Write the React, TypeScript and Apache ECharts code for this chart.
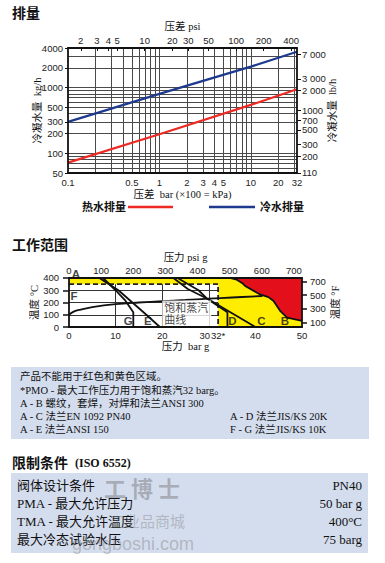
import React, { useEffect, useRef } from 'react';
import * as echarts from 'echarts';

// ---------- Chart 1: 排量 (discharge capacity) ----------
const PSI_PER_BAR = 14.5038;
const LB_PER_KG = 2.20462;
const barRange = [0.1, 32];
const kghRange = [50, 4000];
const barTickLabels = [0.1, 0.5, 1, 2, 3, 4, 5, 10, 20, 32];
const psiTickLabels = [2, 3, 4, 5, 10, 20, 30, 50, 100, 200, 400];
const kghTickLabels = [50, 100, 200, 300, 500, 1000, 2000, 3000, 4000];
const lbhTickLabels = [110.3, 200, 300, 500, 700, 1000, 2000, 3000, 5000, 7000];
const barGridValues = [0.2, 0.3, 0.4, 0.5, 0.6, 0.7, 0.8, 0.9, 1, 2, 3, 4, 5, 6, 7, 8, 9, 10, 20, 30];
const kghGridValues = [60, 70, 80, 90, 100, 200, 300, 400, 500, 600, 700, 800, 900, 1000, 2000, 3000];
const hotWater = [[0.1, 72], [1, 195], [10, 545], [32, 940]];
const coldWater = [[0.1, 300], [1, 800], [10, 2080], [32, 3500]];

// ---------- Chart 2: 工作范围 (operating range) ----------
const pressRange = [0, 50];
const tempRange = [0, 400];
const fRange = [32, 752];
const pressTickLabels = [0, 10, 20, 30, 32, 40, 50];
const psiTickLabels2 = [0, 100, 200, 300, 400, 500, 600, 700];
const tempTickLabels = [0, 100, 200, 300, 350, 400];
const fTickLabels = [100, 300, 500, 700];
const pressGridValues = [10, 20, 30, 40];
const tempGridValues = [100, 200, 300];
const yellowZone = [[0, 350], [32, 350], [32, 0], [50, 0]];
const redZoneB = [[34.5, 400], [36, 386], [37.2, 358], [37.9, 332], [41, 266], [42.8, 244], [43.9, 212], [45.3, 132], [46.8, 76], [50, 50]];
const pmoLimit = [[0, 350], [32, 350], [32, 0]];
const lineE = [[6.5, 400], [10.6, 300], [13.6, 200], [16.6, 100], [19.5, 0]];
const lineG = [[7.3, 400], [10, 300], [12, 220], [13.8, 120], [13.8, 0]];
const lineC = [[22.4, 400], [25.5, 310], [30, 225], [40, 0]];
const lineD = [[23.3, 400], [27.8, 300], [29.5, 235], [34, 120], [34, 0]];
const steamCurve = [[0, 100], [1, 125], [2.5, 142], [5, 162], [10, 186], [15, 200], [20, 211], [25, 221], [30, 231], [35, 241], [41.5, 253]];
const zoneLabels = [
  { name: 'A', value: [0, 400], offset: [7, -4] },
  { name: 'F', value: [0, 300], offset: [5, 6] },
  { name: 'G', value: [13.8, 0], offset: [-5, -6] },
  { name: 'E', value: [19.5, 0], offset: [-12, -6] },
  { name: 'D', value: [34, 0], offset: [5, -6] },
  { name: 'C', value: [40, 0], offset: [6, -6] },
  { name: 'B', value: [50, 0], offset: [-17, -6] },
];
const steamLabelPoint = [20, 106];

// ---------- Text blocks ----------
const noteLines = [
  '产品不能用于红色和黄色区域。',
  '*PMO - 最大工作压力用于饱和蒸汽32 barg。',
  'A - B 螺纹，套焊，对焊和法兰ANSI 300',
  'A - C 法兰EN 1092 PN40',
  'A - E 法兰ANSI 150',
];
const noteRight = ['A - D 法兰JIS/KS 20K', 'F - G 法兰JIS/KS 10K'];
const limitLeft = ['阀体设计条件', 'PMA - 最大允许压力', 'TMA - 最大允许温度', '最大冷态试验水压'];
const limitRight = ['PN40', '50 bar g', '400°C', '75 barg'];

const SANS = "'Liberation Sans', Arial, sans-serif";
const SERIF = "'Liberation Serif', 'Noto Sans CJK SC', serif";
const RED = '#ee2a24';
const BLUE = '#1d3a8e';
const LABEL_SIZE = 9.5;

function axisBase(extra: any) {
  return {
    z: 10,
    splitLine: { show: false },
    axisLine: { show: true, onZero: false, lineStyle: { color: '#111', width: 1.8 } },
    nameLocation: 'middle',
    nameMoveOverlap: false,
    nameTextStyle: { fontFamily: SERIF, fontSize: 10.5, color: '#111' },
    ...extra,
  };
}

function labelStyle(extra: any) {
  return { fontFamily: SANS, fontSize: LABEL_SIZE, color: '#222', hideOverlap: false, showMinLabel: true, showMaxLabel: true, ...extra };
}

function txt(x: number, y: number, text: string, font: string, extra: any = {}) {
  return {
    type: 'text',
    x,
    y,
    silent: true,
    style: {
      text,
      font,
      fill: '#111',
      align: 'left',
      textAlign: 'left',
      verticalAlign: 'middle',
      textVerticalAlign: 'middle',
      ...extra,
    },
  };
}

export default function App() {
  const ref = useRef<HTMLDivElement>(null);
  useEffect(() => {
    if (!ref.current) return;
    const chart = echarts.init(ref.current, undefined, { renderer: 'svg' });
    const lineSeries = (data: number[][], xi: number, yi: number, color: string, width: number, extra: any = {}) => ({
      type: 'line',
      xAxisIndex: xi,
      yAxisIndex: yi,
      data,
      showSymbol: false,
      symbol: 'none',
      silent: true,
      lineStyle: { color, width },
      ...extra,
    });

    const grid1Lines = [
      ...barGridValues.map((x) => ({ coords: [[x, kghRange[0]], [x, kghRange[1]]] })),
      ...kghGridValues.map((y) => ({ coords: [[barRange[0], y], [barRange[1], y]] })),
    ];
    const grid2Lines = [
      ...pressGridValues.map((x) => ({ coords: [[x, tempRange[0]], [x, tempRange[1]]] })),
      ...tempGridValues.map((y) => ({ coords: [[pressRange[0], y], [pressRange[1], y]] })),
    ];

    const graphic: any[] = [
      txt(12, 13, '排量', `bold 14px ${SERIF}`),
      txt(82, 207, '热水排量', `bold 11px ${SERIF}`),
      { type: 'line', silent: true, shape: { x1: 128, y1: 207, x2: 173, y2: 207 }, style: { stroke: RED, lineWidth: 2.5 } },
      { type: 'line', silent: true, shape: { x1: 209, y1: 207, x2: 255, y2: 207 }, style: { stroke: BLUE, lineWidth: 2.5 } },
      txt(260, 207, '冷水排量', `bold 11px ${SERIF}`),
      txt(12, 245, '工作范围', `bold 14px ${SERIF}`),
      { type: 'rect', silent: true, shape: { x: 11, y: 367, width: 358, height: 72 }, style: { fill: '#d4ddee' } },
      txt(20, 376, noteLines[0], `10.5px ${SERIF}`),
      txt(20, 390, noteLines[1], `10.5px ${SERIF}`),
      txt(20, 403, noteLines[2], `10.5px ${SERIF}`),
      txt(20, 416, noteLines[3], `10.5px ${SERIF}`),
      txt(20, 429, noteLines[4], `10.5px ${SERIF}`),
      txt(230, 416, noteRight[0], `10.5px ${SERIF}`),
      txt(230, 429, noteRight[1], `10.5px ${SERIF}`),
      txt(12, 463, '限制条件', `bold 14px ${SERIF}`),
      txt(75, 463, '(ISO 6552)', `bold 12px ${SERIF}`),
      { type: 'rect', silent: true, shape: { x: 11, y: 473, width: 357, height: 80 }, style: { fill: '#d4ddee' } },
      ...limitLeft.map((t, i) => txt(17, 485 + i * 18, t, `13px ${SERIF}`)),
      ...limitRight.map((t, i) => txt(362, 485 + i * 18, t, `13px ${SERIF}`, { align: 'right', textAlign: 'right' })),
      // watermark
      txt(104, 487, '工 博 士', `bold 22px 'Noto Sans CJK SC', sans-serif`, { fill: 'rgba(110,110,110,0.45)' }),
      txt(110, 520, '工业品商城', `15px 'Noto Sans CJK SC', sans-serif`, { fill: 'rgba(120,120,120,0.4)' }),
      txt(72, 544, 'gongboshi.com', `18px ${SANS}`, { fill: 'rgba(120,120,120,0.4)' }),
    ];

    const option: any = {
      animation: false,
      backgroundColor: '#ffffff',
      grid: [
        { left: 68, top: 48, width: 229, height: 125, outerBoundsMode: 'none' },
        { left: 69, top: 278, width: 233, height: 49, outerBoundsMode: 'none' },
      ],
      xAxis: [
        axisBase({
          gridIndex: 0, type: 'log', position: 'bottom', min: barRange[0], max: barRange[1],
          axisTick: { show: false },
          axisLabel: labelStyle({ customValues: barTickLabels, formatter: (v: number) => String(v), margin: 4 }),
          name: '压差  bar (×100 = kPa)', nameGap: 16,
        }),
        axisBase({
          gridIndex: 0, type: 'log', position: 'top', min: barRange[0] * PSI_PER_BAR, max: barRange[1] * PSI_PER_BAR,
          axisTick: { show: true, customValues: psiTickLabels, length: 3, inside: true, lineStyle: { color: '#111' } },
          axisLabel: labelStyle({ customValues: psiTickLabels, formatter: (v: number) => String(v), margin: 3 }),
          name: '压差 psi', nameGap: 16,
        }),
        axisBase({
          gridIndex: 1, type: 'value', position: 'bottom', min: pressRange[0], max: pressRange[1], interval: 10,
          axisTick: { show: false },
          axisLabel: labelStyle({
            customValues: pressTickLabels, margin: 3,
            formatter: (v: number) => (v === 30 ? '{l|30}' : v === 32 ? '32*' : String(v)),
            rich: { l: { padding: [0, 8, 0, 0], fontFamily: SANS, fontSize: LABEL_SIZE, color: '#222' } },
          }),
          name: '压力  bar g', nameGap: 14,
        }),
        axisBase({
          gridIndex: 1, type: 'value', position: 'top', min: 0, max: pressRange[1] * PSI_PER_BAR, interval: 100,
          axisTick: { show: false },
          axisLabel: labelStyle({ customValues: psiTickLabels2, margin: 3 }),
          name: '压力 psi g', nameGap: 15,
        }),
      ],
      yAxis: [
        axisBase({
          gridIndex: 0, type: 'log', position: 'left', min: kghRange[0], max: kghRange[1],
          axisTick: { show: true, customValues: kghTickLabels, length: 3, lineStyle: { color: '#111' } },
          axisLabel: labelStyle({ customValues: kghTickLabels, formatter: (v: number) => String(v), margin: 5 }),
          name: '冷凝水量  kg/h', nameRotate: 90, nameGap: 25,
        }),
        axisBase({
          gridIndex: 0, type: 'log', position: 'right', min: kghRange[0] * LB_PER_KG, max: kghRange[1] * LB_PER_KG,
          axisTick: { show: true, customValues: lbhTickLabels, length: 4, lineStyle: { color: '#111' } },
          axisLabel: labelStyle({
            customValues: lbhTickLabels, margin: 5,
            formatter: (v: number) => (v >= 2000 ? `${Math.round(v / 1000)} 000` : String(Math.round(v))),
          }),
          name: '冷凝水量  lb/h', nameRotate: 90, nameGap: 30,
        }),
        axisBase({
          gridIndex: 1, type: 'value', position: 'left', min: tempRange[0], max: tempRange[1],
          axisTick: { show: true, customValues: tempTickLabels, length: 6, lineStyle: { color: '#111', width: 1.5 } },
          axisLabel: labelStyle({
            customValues: tempTickLabels, margin: 10,
            formatter: (v: number) => (v === 400 ? '{t|400}' : v === 350 ? '{b|350}' : String(v)),
            rich: {
              t: { padding: [0, 0, 2, 0], fontFamily: SANS, fontSize: LABEL_SIZE, color: '#222' },
              b: { padding: [2, 0, 0, 0], fontFamily: SANS, fontSize: LABEL_SIZE, color: '#222' },
            },
          }),
          name: '温度 °C', nameRotate: 90, nameGap: 29,
        }),
        axisBase({
          gridIndex: 1, type: 'value', position: 'right', min: fRange[0], max: fRange[1],
          axisTick: { show: true, customValues: fTickLabels, length: 5, lineStyle: { color: '#111', width: 1.5 } },
          axisLabel: labelStyle({ customValues: fTickLabels, margin: 8 }),
          name: '温度 °F', nameRotate: 90, nameGap: 28,
        }),
      ],
      series: [
        {
          type: 'lines', coordinateSystem: 'cartesian2d', xAxisIndex: 0, yAxisIndex: 0, silent: true,
          data: grid1Lines, lineStyle: { color: '#4a4a4a', width: 1, opacity: 1 },
        },
        lineSeries(hotWater, 0, 0, RED, 2.2),
        lineSeries(coldWater, 0, 0, BLUE, 2.2),
        {
          type: 'lines', coordinateSystem: 'cartesian2d', xAxisIndex: 2, yAxisIndex: 2, silent: true,
          data: grid2Lines, lineStyle: { color: '#333', width: 1, opacity: 1 },
        },
        lineSeries(yellowZone, 2, 2, '#ffed00', 0, { areaStyle: { color: '#ffed00', origin: 'end', opacity: 1 } }),
        lineSeries(redZoneB, 2, 2, '#111', 1.8, { areaStyle: { color: '#e3101b', origin: 'end', opacity: 1 } }),
        lineSeries(pmoLimit, 2, 2, '#222', 1.8, { lineStyle: { color: '#222', width: 1.8, type: [5, 3] } }),
        lineSeries(lineE, 2, 2, '#111', 1.8),
        lineSeries(lineG, 2, 2, '#111', 1.8),
        lineSeries(lineC, 2, 2, '#111', 1.8),
        lineSeries(lineD, 2, 2, '#111', 1.8),
        lineSeries(steamCurve, 2, 2, '#111', 1.8, { smooth: 0.4 }),
        {
          type: 'scatter', xAxisIndex: 2, yAxisIndex: 2, symbolSize: 0, silent: true, clip: false, z: 5,
          data: zoneLabels.map((d) => ({
            name: d.name, value: d.value,
            label: { show: true, position: 'inside', offset: d.offset, formatter: '{b}', fontFamily: SANS, fontWeight: 'bold', fontSize: 11.5, color: '#111' },
          })),
        },
        {
          type: 'scatter', xAxisIndex: 2, yAxisIndex: 2, symbolSize: 0, silent: true, clip: false, z: 5,
          data: [{ value: steamLabelPoint, name: 'steam' }],
          label: {
            show: true, position: 'right', distance: 0, formatter: '饱和蒸汽\n曲线',
            backgroundColor: '#ffffff', padding: [2, 3, 1, 2], fontSize: 11, lineHeight: 12,
            fontFamily: SERIF, color: '#111', align: 'left',
          },
        },
      ],
      graphic,
    };
    chart.setOption(option);
    return () => chart.dispose();
  }, []);

  return (
    <div
      ref={ref}
      style={{ position: 'absolute', left: 0, top: 0, width: 385, height: 563, background: '#fff' }}
    />
  );
}
